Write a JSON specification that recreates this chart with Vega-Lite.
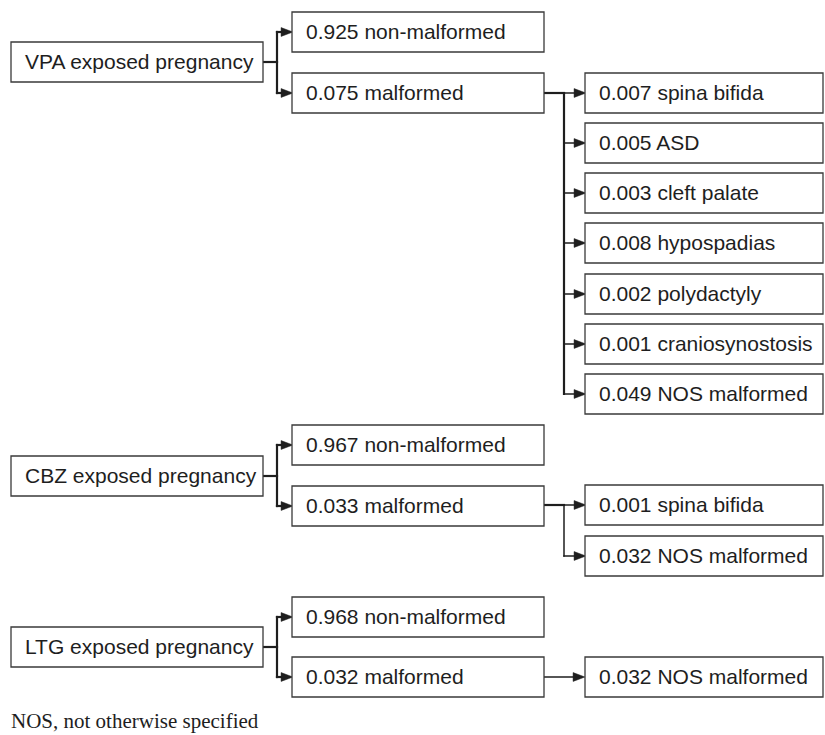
{
  "$schema": "https://vega.github.io/schema/vega-lite/v6.json",
  "width": 825,
  "height": 735,
  "padding": 0,
  "autosize": {"type": "none"},
  "background": "white",
  "config": {"view": {"stroke": null}},
  "datasets": {
    "boxes": [
      {"x1": 11, "x2": 263, "y1": 42, "y2": 82, "label": "VPA exposed pregnancy"},
      {"x1": 292, "x2": 544, "y1": 12, "y2": 52, "label": "0.925 non-malformed"},
      {"x1": 292, "x2": 544, "y1": 73, "y2": 113, "label": "0.075 malformed"},
      {"x1": 585, "x2": 823, "y1": 73, "y2": 113, "label": "0.007 spina bifida"},
      {"x1": 585, "x2": 823, "y1": 123, "y2": 163, "label": "0.005 ASD"},
      {"x1": 585, "x2": 823, "y1": 173, "y2": 213, "label": "0.003 cleft palate"},
      {"x1": 585, "x2": 823, "y1": 223, "y2": 263, "label": "0.008 hypospadias"},
      {"x1": 585, "x2": 823, "y1": 274, "y2": 314, "label": "0.002 polydactyly"},
      {"x1": 585, "x2": 823, "y1": 324, "y2": 364, "label": "0.001 craniosynostosis"},
      {"x1": 585, "x2": 823, "y1": 374, "y2": 414, "label": "0.049 NOS malformed"},
      {"x1": 11, "x2": 263, "y1": 456, "y2": 496, "label": "CBZ exposed pregnancy"},
      {"x1": 292, "x2": 544, "y1": 425, "y2": 465, "label": "0.967 non-malformed"},
      {"x1": 292, "x2": 544, "y1": 486, "y2": 526, "label": "0.033 malformed"},
      {"x1": 585, "x2": 823, "y1": 485, "y2": 525, "label": "0.001 spina bifida"},
      {"x1": 585, "x2": 823, "y1": 536, "y2": 576, "label": "0.032 NOS malformed"},
      {"x1": 11, "x2": 263, "y1": 627, "y2": 667, "label": "LTG exposed pregnancy"},
      {"x1": 292, "x2": 544, "y1": 597, "y2": 637, "label": "0.968 non-malformed"},
      {"x1": 292, "x2": 544, "y1": 657, "y2": 697, "label": "0.032 malformed"},
      {"x1": 585, "x2": 823, "y1": 657, "y2": 697, "label": "0.032 NOS malformed"}
    ],
    "lines": [
      {"kind": "thick", "xa": 263, "xb": 277, "ya": 62, "yb": 62},
      {"kind": "thick", "xa": 277, "xb": 277, "ya": 32, "yb": 93},
      {"kind": "thick", "xa": 277, "xb": 283, "ya": 32, "yb": 32},
      {"kind": "thick", "xa": 277, "xb": 283, "ya": 93, "yb": 93},
      {"kind": "thick", "xa": 544, "xb": 564, "ya": 93, "yb": 93},
      {"kind": "thick", "xa": 564, "xb": 564, "ya": 93, "yb": 394},
      {"kind": "thin", "xa": 564, "xb": 576, "ya": 93, "yb": 93},
      {"kind": "thin", "xa": 564, "xb": 576, "ya": 143, "yb": 143},
      {"kind": "thin", "xa": 564, "xb": 576, "ya": 193, "yb": 193},
      {"kind": "thin", "xa": 564, "xb": 576, "ya": 243, "yb": 243},
      {"kind": "thin", "xa": 564, "xb": 576, "ya": 294, "yb": 294},
      {"kind": "thin", "xa": 564, "xb": 576, "ya": 344, "yb": 344},
      {"kind": "thin", "xa": 564, "xb": 576, "ya": 394, "yb": 394},
      {"kind": "thick", "xa": 263, "xb": 277, "ya": 476, "yb": 476},
      {"kind": "thick", "xa": 277, "xb": 277, "ya": 445, "yb": 506},
      {"kind": "thick", "xa": 277, "xb": 283, "ya": 445, "yb": 445},
      {"kind": "thick", "xa": 277, "xb": 283, "ya": 506, "yb": 506},
      {"kind": "thick", "xa": 544, "xb": 564, "ya": 505, "yb": 505},
      {"kind": "thin", "xa": 564, "xb": 564, "ya": 505, "yb": 556},
      {"kind": "thin", "xa": 564, "xb": 576, "ya": 505, "yb": 505},
      {"kind": "thin", "xa": 564, "xb": 576, "ya": 556, "yb": 556},
      {"kind": "thick", "xa": 263, "xb": 277, "ya": 647, "yb": 647},
      {"kind": "thick", "xa": 277, "xb": 277, "ya": 617, "yb": 677},
      {"kind": "thick", "xa": 277, "xb": 283, "ya": 617, "yb": 617},
      {"kind": "thick", "xa": 277, "xb": 283, "ya": 677, "yb": 677},
      {"kind": "thin", "xa": 544, "xb": 576, "ya": 677, "yb": 677}
    ],
    "arrows": [
      {"xt": 287, "yt": 32}, {"xt": 287, "yt": 93},
      {"xt": 287, "yt": 445}, {"xt": 287, "yt": 506},
      {"xt": 287, "yt": 617}, {"xt": 287, "yt": 677},
      {"xt": 580, "yt": 93}, {"xt": 580, "yt": 143}, {"xt": 580, "yt": 193},
      {"xt": 580, "yt": 243}, {"xt": 580, "yt": 294}, {"xt": 580, "yt": 344},
      {"xt": 580, "yt": 394}, {"xt": 580, "yt": 505}, {"xt": 580, "yt": 556},
      {"xt": 579, "yt": 677}
    ],
    "note": [
      {"xn": 11, "yn": 728, "text": "NOS, not otherwise specified"}
    ]
  },
  "layer": [
    {
      "data": {"name": "lines"},
      "transform": [{"filter": "datum.kind === 'thick'"}],
      "mark": {"type": "rule", "stroke": "#1e1e1e", "strokeWidth": 2.2, "strokeCap": "square"},
      "encoding": {
        "x": {"field": "xa", "type": "quantitative", "scale": {"domain": [0, 825], "nice": false, "zero": false}, "axis": null},
        "x2": {"field": "xb"},
        "y": {"field": "ya", "type": "quantitative", "scale": {"domain": [0, 735], "nice": false, "zero": false, "reverse": true}, "axis": null},
        "y2": {"field": "yb"}
      }
    },
    {
      "data": {"name": "lines"},
      "transform": [{"filter": "datum.kind === 'thin'"}],
      "mark": {"type": "rule", "stroke": "#1e1e1e", "strokeWidth": 1.5, "strokeCap": "square"},
      "encoding": {
        "x": {"field": "xa", "type": "quantitative"},
        "x2": {"field": "xb"},
        "y": {"field": "ya", "type": "quantitative"},
        "y2": {"field": "yb"}
      }
    },
    {
      "data": {"name": "arrows"},
      "mark": {"type": "point", "shape": "M-1,-0.75L1,0L-1,0.75Z", "filled": true, "fill": "#1e1e1e", "stroke": "#1e1e1e", "strokeWidth": 0.5, "size": 140, "opacity": 1},
      "encoding": {
        "x": {"field": "xt", "type": "quantitative"},
        "y": {"field": "yt", "type": "quantitative"}
      }
    },
    {
      "data": {"name": "boxes"},
      "mark": {"type": "rect", "fill": "white", "stroke": "#3a3a3a", "strokeWidth": 1.3},
      "encoding": {
        "x": {"field": "x1", "type": "quantitative"},
        "x2": {"field": "x2"},
        "y": {"field": "y1", "type": "quantitative"},
        "y2": {"field": "y2"}
      }
    },
    {
      "data": {"name": "boxes"},
      "transform": [
        {"calculate": "datum.x1 + 14", "as": "tx"},
        {"calculate": "(datum.y1 + datum.y2) / 2 + 1", "as": "ty"}
      ],
      "mark": {"type": "text", "align": "left", "baseline": "middle", "font": "Liberation Sans", "fontSize": 21, "fill": "#1e1e1e"},
      "encoding": {
        "x": {"field": "tx", "type": "quantitative"},
        "y": {"field": "ty", "type": "quantitative"},
        "text": {"field": "label"}
      }
    },
    {
      "data": {"name": "note"},
      "mark": {"type": "text", "align": "left", "baseline": "alphabetic", "font": "Liberation Serif", "fontSize": 21, "fill": "#1e1e1e"},
      "encoding": {
        "x": {"field": "xn", "type": "quantitative"},
        "y": {"field": "yn", "type": "quantitative"},
        "text": {"field": "text"}
      }
    }
  ]
}
